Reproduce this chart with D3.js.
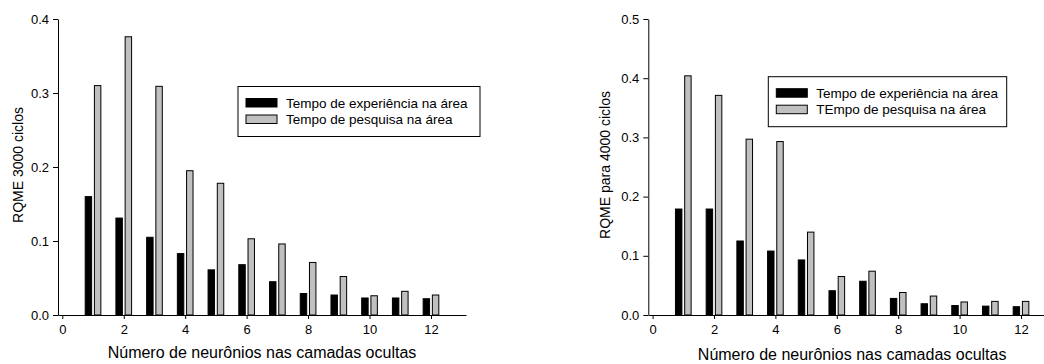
<!DOCTYPE html>
<html>
<head>
<meta charset="utf-8">
<script src="https://cdn.jsdelivr.net/npm/d3@7"></script>
<style>
    body { margin: 0; background: #fff; }
    svg { display: block; font-family: Arial, "Liberation Sans", sans-serif; }
</style>
</head>
<body>
<div id="chart"></div>
<script>
// Neuron counts in the hidden layers
const neurons = [1, 2, 3, 4, 5, 6, 7, 8, 9, 10, 11, 12];

// Left panel: 3000 cycles
const exp3000 = [0.160, 0.131, 0.105, 0.083, 0.061, 0.068, 0.045, 0.029, 0.027, 0.023, 0.023, 0.022];
const pesq3000 = [0.310, 0.376, 0.309, 0.195, 0.178, 0.103, 0.096, 0.071, 0.052, 0.026, 0.032, 0.027];

// Right panel: 4000 cycles
const exp4000 = [0.179, 0.179, 0.125, 0.108, 0.093, 0.041, 0.057, 0.028, 0.019, 0.016, 0.015, 0.014];
const pesq4000 = [0.404, 0.371, 0.297, 0.293, 0.140, 0.065, 0.074, 0.038, 0.032, 0.022, 0.023, 0.023];

const xTicks = [0, 2, 4, 6, 8, 10, 12];
const yTicks3000 = [0, 0.1, 0.2, 0.3, 0.4];
const yTicks4000 = [0, 0.1, 0.2, 0.3, 0.4, 0.5];

const xTitle = "Número de neurônios nas camadas ocultas";

const width = 1044, height = 364;

const svg = d3.select("#chart")
    .append("svg")
    .attr("width", width)
    .attr("height", height);

function drawPanel(opts) {
    const x = d3.scaleLinear()
        .domain([-0.14, 13.14])
        .range([opts.left, opts.right]);

    const y = d3.scaleLinear()
        .domain([0, opts.yMax])
        .range([315, 19]);

    const g = svg.append("g");

    const barW = 0.21;   // bar width in x units
    const off = 0.15;    // half distance between bar centres

    // black bars
    g.selectAll("rect.exp")
        .data(neurons)
        .enter()
        .append("rect")
        .attr("class", "exp")
        .attr("x", (d, i) => x(d - off - barW / 2))
        .attr("width", x(barW) - x(0))
        .attr("y", (d, i) => y(opts.exp[i]))
        .attr("height", (d, i) => y(0) - y(opts.exp[i]))
        .attr("fill", "#000")
        .attr("stroke", "#000")
        .attr("stroke-width", 1);

    // grey bars
    g.selectAll("rect.pesq")
        .data(neurons)
        .enter()
        .append("rect")
        .attr("class", "pesq")
        .attr("x", (d, i) => x(d + off - barW / 2))
        .attr("width", x(barW) - x(0))
        .attr("y", (d, i) => y(opts.pesq[i]))
        .attr("height", (d, i) => y(0) - y(opts.pesq[i]))
        .attr("fill", "#c0c0c0")
        .attr("stroke", "#000")
        .attr("stroke-width", 1);

    // x axis
    const xAxis = g.append("g")
        .attr("transform", `translate(0, ${y(0)})`)
        .call(d3.axisBottom(x).tickValues(xTicks).tickSize(4).tickPadding(6).tickSizeOuter(0));
    xAxis.select(".domain").attr("stroke", "#000");
    xAxis.selectAll("text").style("font-size", "13px").style("font-family", "Arial, 'Liberation Sans', sans-serif");

    // y axis
    const yAxis = g.append("g")
        .attr("transform", `translate(${opts.left}, 0)`)
        .call(d3.axisLeft(y).tickValues(opts.yTicks).tickFormat(d3.format(".1f")).tickSize(5).tickPadding(4).tickSizeOuter(0));
    yAxis.select(".domain").attr("stroke", "#000");
    yAxis.selectAll("text").style("font-size", "13px").style("font-family", "Arial, 'Liberation Sans', sans-serif");

    // axis titles
    g.append("text")
        .attr("x", (opts.left + opts.right) / 2)
        .attr("y", opts.xTitleY)
        .attr("text-anchor", "middle")
        .style("font-size", "16px")
        .text(xTitle);

    g.append("text")
        .attr("transform", `translate(${opts.yTitleX}, 165) rotate(-90)`)
        .attr("text-anchor", "middle")
        .style("font-size", "14px")
        .text(opts.yTitle);

    // legend
    const lg = g.append("g")
        .attr("transform", `translate(${opts.legend[0]}, ${opts.legend[1]})`);
    lg.append("rect")
        .attr("width", opts.legend[2])
        .attr("height", 50)
        .attr("fill", "#fff")
        .attr("stroke", "#000");

    const items = [
        { fill: "#000", label: opts.labels[0] },
        { fill: "#c0c0c0", label: opts.labels[1] }
    ];
    items.forEach((it, i) => {
        lg.append("rect")
            .attr("x", 8)
            .attr("y", 12 + i * 16.5)
            .attr("width", 31)
            .attr("height", 8.5)
            .attr("fill", it.fill)
            .attr("stroke", "#000");
        lg.append("text")
            .attr("x", 48)
            .attr("y", 16.5 + i * 16.5)
            .attr("dy", "0.35em")
            .style("font-size", "13.5px")
            .text(it.label);
    });
}

drawPanel({
    left: 58, right: 466, yMax: 0.4,
    exp: exp3000, pesq: pesq3000, yTicks: yTicks3000,
    yTitle: "RQME 3000 ciclos", yTitleX: 23, xTitleY: 358,
    legend: [238, 86.5, 242],
    labels: ["Tempo de experiência na área", "Tempo de pesquisa na área"]
});

drawPanel({
    left: 648.3, right: 1056, yMax: 0.5,
    exp: exp4000, pesq: pesq4000, yTicks: yTicks4000,
    yTitle: "RQME para 4000 ciclos", yTitleX: 610, xTitleY: 360,
    legend: [768.3, 76.7, 238.4],
    labels: ["Tempo de experiência na área", "TEmpo de pesquisa na área"]
});
</script>
</body>
</html>
